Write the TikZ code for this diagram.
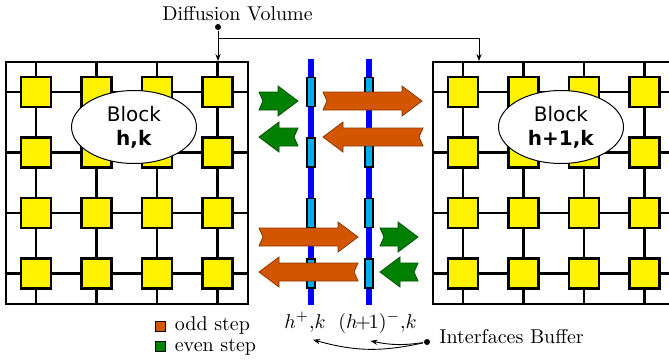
\documentclass[tikz,border=0pt]{standalone}
\usepackage{fontspec}
\usepackage{amsmath, amssymb}
\usepackage{tikz}
\usepackage{xcolor}
\usetikzlibrary{arrows.meta, shapes.geometric}
\newfontfamily\blockfont{DejaVu Sans}
\definecolor{oddcol}{RGB}{212,85,0}
\definecolor{evencol}{RGB}{0,128,0}

\begin{document}
\begin{tikzpicture}[x=0.5pt, y=-0.5pt, line width=1.2pt,
  cell/.style={draw, fill=yellow},
  port/.style={draw, fill=cyan, line width=0.9pt},
  buffer/.style={blue, line width=3.4pt},
  flow/.style={line width=0.4pt, line join=miter},
  blocktag/.style={ellipse, draw, fill=white, line width=0.5pt, inner sep=0pt,
    minimum width=62.5pt, minimum height=36.5pt, align=center, font=\blockfont},
  keybox/.style={draw, line width=0.4pt, inner sep=0pt, minimum size=5pt},
  dot/.style={circle, fill, inner sep=0pt, minimum size=3pt},
  note/.style={line width=0.45pt, -{Stealth[length=3.5pt, width=2.6pt]}}]
  \clip (0,0) rectangle (669,360);
  \fill[white] (0,0) rectangle (669,360);
  % blocks: grid of cells
  \foreach \bx/\txt/\nm in {6/{h,k}/left, 433/{h+1,k}/right} {
    \draw (\bx,62) rectangle ++(242,242);
    \foreach \i in {0,...,3} {
      \draw ({\bx+30+60.5*\i},62) -- ++(0,242);
      \draw (\bx,{92+60.5*\i}) -- ++(242,0);
    }
    \foreach \i in {0,...,3}
      \foreach \j in {0,...,3}
        \draw[cell] ({\bx+15+60.5*\i},{77+60.5*\j}) rectangle ++(30,30);
    \node[blocktag] (\nm block) at ({\bx+128},127) {Block\\\textbf{\txt}};
  }
  % interfaces buffer
  \foreach \ix in {311,369} {
    \draw[buffer] (\ix,59) -- (\ix,305);
    \foreach \j in {0,...,3}
      \draw[port] ({\ix-4},{77.5+60.5*\j}) rectangle ++(8,29);
  }
  % odd / even step exchanges
  \foreach \tl/\tp/\ay/\col in {259/298/101/evencol, 323/422/101/oddcol,
      298/259/137/evencol, 423/323/137/oddcol, 259/358/237/oddcol,
      380/418/237/evencol, 358/259/272/oddcol, 418/380/272/evencol} {
    \pgfmathsetmacro\d{sign(\tp-\tl)}
    \draw[flow, fill=\col, draw=\col!65!black]
      (\tl,{\ay-9}) -- ({\tp-20*\d},{\ay-9}) -- ({\tp-20*\d},{\ay-15})
      -- (\tp,\ay) -- ({\tp-20*\d},{\ay+15}) -- ({\tp-20*\d},{\ay+9})
      -- (\tl,{\ay+9}) -- ({\tl+4*\d},\ay) -- cycle;
  }
  % diffusion volume
  \node (dvol) at (237.5,14) {Diffusion Volume};
  \node[dot] (dvdot) at (218,27) {};
  \coordinate (dvbend) at (218,38);
  \coordinate (lefttop) at (218,61);
  \coordinate (righttop) at (479,61);
  \draw[note] (dvdot) -- (lefttop);
  \draw[note] (dvbend) -| (righttop);
  % legend
  \node[keybox, fill=oddcol] (oddkey) at (160,326) {};
  \node[keybox, fill=evencol] (evenkey) at (160,346) {};
  \node[anchor=base west] (oddtxt) at (167,330) {odd step};
  \node[anchor=base west] (eventxt) at (167,351) {even step};
  % interface labels
  \node[anchor=base] (hplus) at (305,328) {$h^+{,}k$};
  \node[anchor=base] (hminus) at (377.5,328) {$(h\!\!+\!\!1)^-{,}k$};
  \node[dot] (ibdot) at (427,342) {};
  \node[anchor=base west] (ibuf) at (431.5,343) {Interfaces Buffer};
  \draw[note] (ibdot) to[bend left=14] ([xshift=4pt]hplus.south);
  \draw[note] (ibdot) to[bend left=10] ([xshift=-3.5pt]hminus.south);
\end{tikzpicture}
\end{document}
